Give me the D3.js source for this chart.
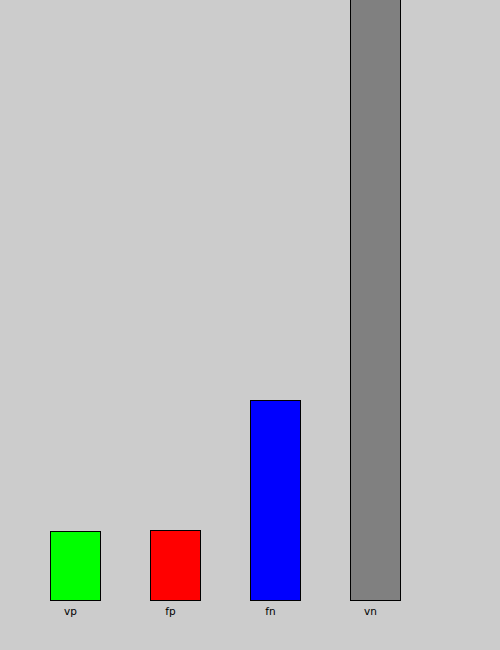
<!DOCTYPE html>
<html><head><meta charset="utf-8">
<script src="https://cdn.jsdelivr.net/npm/d3@7"></script>
<style>html,body{margin:0;padding:0;background:#cccccc;overflow:hidden}</style>
</head><body>
<script>
const categories = ["vp", "fp", "fn", "vn"];
const values = [69, 70, 200, 640];
const colors = ["#00ff00", "#ff0000", "#0000ff", "#808080"];

const W = 500, H = 650;
const svg = d3.select("body").append("svg").attr("width", W).attr("height", H)
  .style("display", "block").style("background", "#cccccc");

const x = d3.scaleBand().domain(categories).range([0, 450]).paddingInner(0.5).paddingOuter(0.5);
const y = d3.scaleLinear().domain([0, 600]).range([600, 0]);

svg.selectAll("rect.bar").data(categories).join("rect")
  .attr("class", "bar")
  .attr("x", d => x(d) + 0.5)
  .attr("y", (d, i) => y(values[i]) + 0.5)
  .attr("width", x.bandwidth())
  .attr("height", (d, i) => y(0) - y(values[i]))
  .attr("fill", (d, i) => colors[i])
  .attr("stroke", "#000").attr("stroke-width", 1);

svg.selectAll("text.lab").data(categories).join("text")
  .attr("class", "lab")
  .attr("x", d => x(d) + 20.5)
  .attr("y", 615)
  .attr("text-anchor", "middle")
  .attr("font-family", "DejaVu Sans, sans-serif")
  .attr("font-size", 10.5)
  .attr("fill", "#000")
  .text(d => d);
</script>
</body></html>
